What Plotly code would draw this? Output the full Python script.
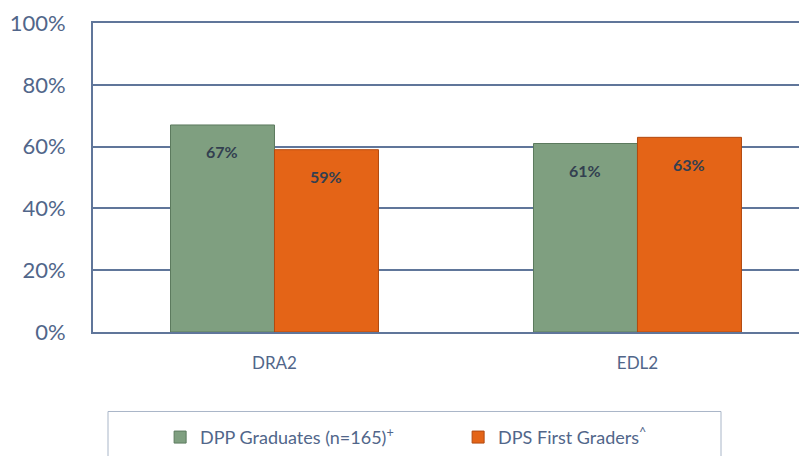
import plotly.graph_objects as go

categories = ["DRA2", "EDL2"]
dpp_values = [0.67, 0.61]
dps_values = [0.59, 0.63]
series_names = ["DPP Graduates (n=165)<sup>+</sup>", "DPS First Graders<sup>^</sup>"]
y_ticks = [0, 0.2, 0.4, 0.6, 0.8, 1.0]
y_tick_labels = ["0%", "20%", "40%", "60%", "80%", "100%"]

FONT = "Lato, Open Sans, sans-serif"
AXIS_COLOR = "#60769a"
TEXT_COLOR = "#51668a"
LABEL_COLOR = "#333f50"

# page has an 8px body margin; figure is sized to fill the rest of the window
W, H = 799, 448
PL, PT, PB = 85, 15, 122

fig = go.Figure()
fig.add_trace(go.Bar(
    x=categories, y=dpp_values, name=series_names[0],
    marker=dict(color="#7f9f80", line=dict(color="#5c7a5e", width=1)),
))
fig.add_trace(go.Bar(
    x=categories, y=dps_values, name=series_names[1],
    marker=dict(color="#e46417", line=dict(color="#b24a10", width=1)),
))

annotations = []
for i, cat in enumerate(categories):
    for vals, shift in ((dpp_values, -52), (dps_values, 52)):
        annotations.append(dict(
            x=cat, y=vals[i], xref="x", yref="y", xshift=shift, yshift=-27,
            text=f"<b>{round(vals[i]*100)}%</b>", showarrow=False,
            font=dict(family=FONT, size=16, color=LABEL_COLOR),
        ))

plot_h = H - PT - PB
plot_w = W - PL
fig.update_layout(
    width=W, height=H,
    margin=dict(l=PL, r=0, t=PT, b=PB),
    paper_bgcolor="white", plot_bgcolor="white",
    barmode="group", bargap=0.427, bargroupgap=0,
    font=dict(family=FONT, color=TEXT_COLOR),
    showlegend=True,
    legend=dict(
        orientation="h", x=0.094, xanchor="left", y=-0.341, yanchor="middle",
        font=dict(family=FONT, size=18, color=TEXT_COLOR),
        itemwidth=30, entrywidth=253, traceorder="normal",
        bgcolor="rgba(0,0,0,0)",
    ),
    annotations=annotations,
    shapes=[dict(
        type="rect", xref="paper", yref="paper",
        x0=15 / plot_w, x1=628 / plot_w,
        y0=-136 / plot_h, y1=-80 / plot_h,
        line=dict(color="#a9b6c8", width=1), fillcolor="rgba(0,0,0,0)",
        layer="below",
    )],
)
fig.update_xaxes(
    range=[-0.5, 1.467], showline=True, mirror=True, linecolor=AXIS_COLOR, linewidth=2,
    showgrid=False, ticks="", tickfont=dict(family=FONT, size=17, color=TEXT_COLOR),
    ticklabelstandoff=15,
)
fig.update_yaxes(
    range=[0, 1], tickvals=y_ticks, ticktext=y_tick_labels,
    showline=True, linecolor=AXIS_COLOR, linewidth=2,
    showgrid=True, gridcolor=AXIS_COLOR, gridwidth=2, zeroline=False, ticks="",
    tickfont=dict(family=FONT, size=22, color=TEXT_COLOR),
    ticklabelstandoff=21,
)

fig.write_html("out.html")
